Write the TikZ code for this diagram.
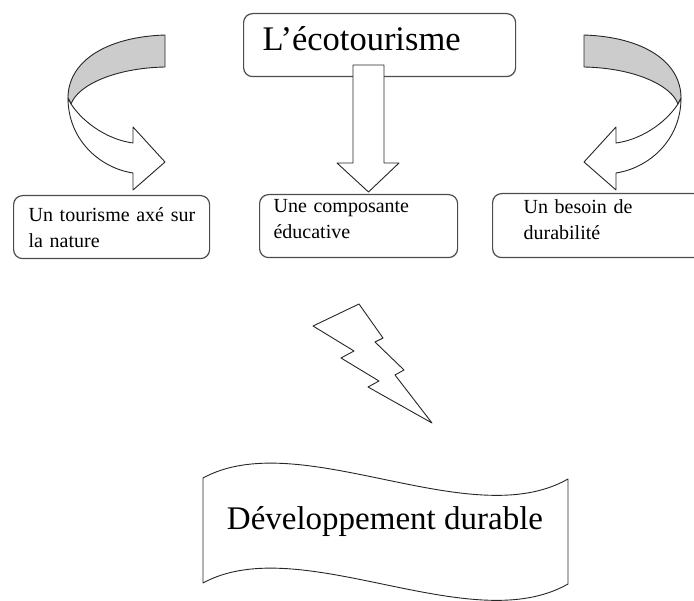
\documentclass[tikz,border=0pt]{standalone}
\usepackage{fontspec}
\setmainfont{Liberation Serif}

\begin{document}
\begin{tikzpicture}[x=1pt, y=-1pt,
    box/.style={draw=black!70, line width=1.2pt, rounded corners=9pt, anchor=north west,
      align=left, inner ysep=0pt, font=\fontsize{20}{25.5}\selectfont},
    outline/.style={draw=black!85, line width=0.9pt, line join=round},
    ribbonback/.style={outline, fill=black!20},
    ribbonfront/.style={outline, fill=white}]

    \useasboundingbox (0,0) rectangle (694,601);

    % Top box
    \node[box, font=\fontsize{34.5}{40}\selectfont, text width=234pt, inner xsep=19pt,
      text height=37pt, text depth=26pt] (eco) at (243,13) {L’écotourisme};

    % The three boxes below it
    \node[box, text width=166pt, inner xsep=15pt, text height=26pt, text depth=37pt] (nature) at (13,195)
      {\mbox{Un tourisme axé sur}\\la nature};
    \node[box, text width=170pt, inner xsep=14pt, text height=18pt, text depth=45pt] (educ) at (259,194)
      {Une composante\\éducative};
    \node[box, text width=148pt, inner xsep=31pt, text height=20pt, text depth=44pt] (durab) at (492,193)
      {Un besoin de\\durabilité};

    % Block arrow down to the middle box
    \filldraw[ribbonfront] (353,65) -- (384,65) -- (384,163) -- (399,163) -- (368.5,192)
      -- (337,163) -- (353,163) -- cycle;

    % The two twisted arrows, the right one mirrored
    \foreach \flip/\shiftx in {1/0, -1/749} {
      \begin{scope}[xshift=\shiftx, xscale=\flip]
        \filldraw[ribbonback] (165,35) .. controls (105,37) and (68,62) .. (68,98) -- (71,104)
          .. controls (78,85) and (115,68) .. (165,67) -- cycle;
        \filldraw[ribbonfront] (68,98) .. controls (68,140) and (100,168) .. (133,173) -- (133,190)
          -- (165,162) -- (133,127) -- (133,143) .. controls (110,140) and (85,125) .. (71,104) -- cycle;
      \end{scope}
    }

    % Lightning bolt
    \draw[outline] (313,326) -- (359,304) -- (383,338) -- (375,342) -- (404,370) -- (395,375)
      -- (432,423) -- (368,387) -- (379,381) -- (341,358) -- (354,351) -- cycle;

    % Banner
    \draw[outline, fill=white] (203,478) .. controls (300,425) and (470,535) .. (568,479)
      -- (568,584) .. controls (470,640) and (300,530) .. (203,583) -- cycle;
    \node[font=\fontsize{33}{40}\selectfont, anchor=base] (dd) at (385,530) {Développement durable};

\end{tikzpicture}
\end{document}
